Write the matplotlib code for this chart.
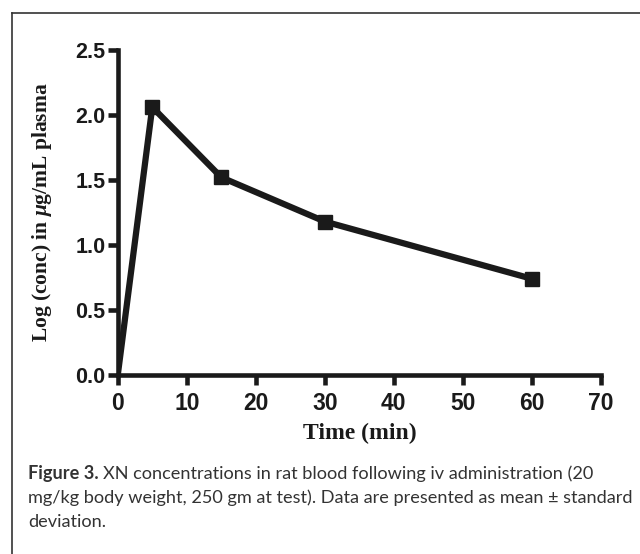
import matplotlib
matplotlib.use("Agg")
import matplotlib.pyplot as plt
from matplotlib import font_manager
from matplotlib.lines import Line2D

# Plasma level after iv dose
time_min = [0, 5, 15, 30, 60]
log_conc = [0.0, 2.06, 1.52, 1.18, 0.74]

x_ticks = [0, 10, 20, 30, 40, 50, 60, 70]
y_ticks = [0.0, 0.5, 1.0, 1.5, 2.0, 2.5]

caption_lines = [
    "XN concentrations in rat blood following iv administration (20",
    "mg/kg body weight, 250 gm at test). Data are presented as mean \u00b1 standard",
    "deviation.",
]

names = {f.name for f in font_manager.fontManager.ttflist}
cap_font = "Liberation Sans Narrow" if "Liberation Sans Narrow" in names else "Lato"

plt.rcParams["mathtext.fontset"] = "custom"
plt.rcParams["mathtext.bfit"] = "Liberation Serif:italic:bold"

fig = plt.figure(figsize=(6.4, 5.54), dpi=100)
ax = fig.add_axes([0.184, 0.323, 0.755, 0.587])

ax.plot(time_min, log_conc, color="#1a1a1a", lw=4.5, marker="s", ms=10,
        markevery=[1, 2, 3, 4], solid_joinstyle="miter")

ax.set_xlim(0, 70)
ax.set_ylim(0, 2.5)
ax.set_xticks(x_ticks)
ax.set_yticks(y_ticks)
ax.set_yticklabels([f"{v:.1f}" for v in y_ticks])

for side in ["top", "right"]:
    ax.spines[side].set_visible(False)
for side in ["left", "bottom"]:
    ax.spines[side].set_linewidth(3.3)
    ax.spines[side].set_color("#1a1a1a")

ax.tick_params(direction="out", length=7, width=3.3, color="#1a1a1a")
ax.tick_params(axis="x", pad=5)
ax.tick_params(axis="y", pad=2)
for lab in ax.get_xticklabels():
    lab.set_fontfamily("Liberation Sans")
    lab.set_fontweight("bold")
    lab.set_fontsize(16.5)
    lab.set_color("#1a1a1a")
for lab in ax.get_yticklabels():
    lab.set_fontfamily("Liberation Sans")
    lab.set_fontweight("bold")
    lab.set_fontsize(15.5)
    lab.set_color("#1a1a1a")

ax.set_xlabel("Time (min)", family="Liberation Serif", weight="bold",
              fontsize=17, color="#1a1a1a", labelpad=6)
ax.set_ylabel(r"Log (conc) in $\mathbfit{\mu}$g/mL plasma", family="Liberation Serif",
              weight="bold", fontsize=15.5, color="#1a1a1a", labelpad=15)

# frame around figure (top and left visible)
fig.add_artist(Line2D([12 / 640, 12 / 640], [0, 1 - 13 / 554], color="#333333", lw=1.2))
fig.add_artist(Line2D([12 / 640, 1], [1 - 13 / 554, 1 - 13 / 554], color="#333333", lw=1.2))

# caption: size chosen so the longest line ends near x=632 px
x0 = 28 / 640
probe = fig.text(x0, 0.5, caption_lines[1], family=cap_font, fontsize=13)
fig.canvas.draw()
w = probe.get_window_extent().width
probe.remove()
cap_size = 13 * (632 - 28) / w

y0 = 1 - 479 / 554
step = 24 / 554
fig.text(x0, y0, "Figure 3.", family=cap_font, weight="bold", fontsize=cap_size,
         color="#333333", va="baseline")
t = fig.text(x0, y0, "Figure 3. ", family=cap_font, weight="bold", fontsize=cap_size,
             alpha=0)
fig.canvas.draw()
bb = t.get_window_extent()
fig.text(bb.x1 / 640, y0, caption_lines[0], family=cap_font, fontsize=cap_size,
         color="#333333", va="baseline")
fig.text(x0, y0 - step, caption_lines[1], family=cap_font, fontsize=cap_size,
         color="#333333", va="baseline")
fig.text(x0, y0 - 2 * step, caption_lines[2], family=cap_font, fontsize=cap_size,
         color="#333333", va="baseline")

fig.savefig("out.png", dpi=100)
